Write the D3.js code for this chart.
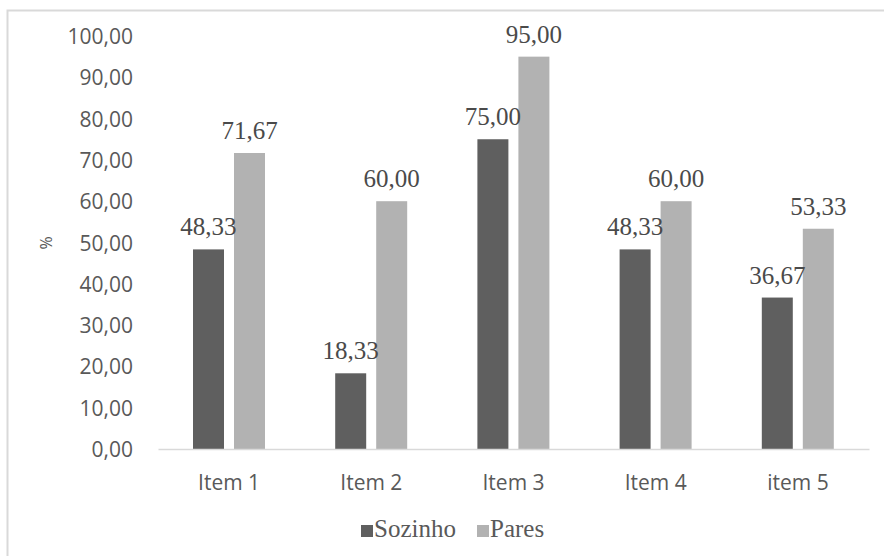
<!DOCTYPE html>
<html>
<head>
<meta charset="utf-8">
<script src="https://cdn.jsdelivr.net/npm/d3@7"></script>
<style>
  html, body { margin: 0; padding: 0; background: #fff; }
  svg { display: block; }
  .serif { font-family: "Liberation Serif", Tinos, "Times New Roman", Times, "DejaVu Serif", "Noto Serif", serif; }
  .sans { font-family: "Open Sans", sans-serif; }
</style>
</head>
<body>
<svg id="chart" width="884" height="556"></svg>
<script>
const categories = ['Item 1', 'Item 2', 'Item 3', 'Item 4', 'item 5'];
const seriesNames = ['Sozinho', 'Pares'];
const sozinho = [48.33, 18.33, 75.00, 48.33, 36.67];
const pares = [71.67, 60.00, 95.00, 60.00, 53.33];
const yTicks = [0, 10, 20, 30, 40, 50, 60, 70, 80, 90, 100];

const colors = { Sozinho: '#5f5f5f', Pares: '#b2b2b2' };
const fmt = v => v.toFixed(2).replace('.', ',');

const svg = d3.select('#chart');

// chart frame (only top and left edge are visible in the crop)
svg.append('rect')
  .attr('x', 7.5)
  .attr('y', 10.5)
  .attr('width', 900)
  .attr('height', 600)
  .attr('fill', 'none')
  .attr('stroke', '#d9d9d9')
  .attr('stroke-width', 2);

const x0 = d3.scaleBand()
  .domain(categories)
  .range([158, 869]);

const x1 = d3.scaleBand()
  .domain(seriesNames)
  .range([35, 107])
  .paddingInner(0.244);

const y = d3.scaleLinear()
  .domain([0, 100])
  .range([449, 36]);

// y axis labels
const yAxis = d3.axisLeft(y)
  .tickValues(yTicks)
  .tickFormat(fmt)
  .tickSize(0)
  .tickPadding(0);

const gy = svg.append('g')
  .attr('transform', 'translate(133,0)')
  .call(yAxis);
gy.select('.domain').remove();
gy.selectAll('text')
  .attr('class', 'sans')
  .attr('font-family', null)
  .attr('font-size', 21)
  .attr('fill', '#595959')
  .attr('dy', '0.36em');

// y title
svg.append('text')
  .attr('class', 'sans')
  .attr('transform', 'translate(52,243) rotate(-90)')
  .attr('text-anchor', 'middle')
  .attr('font-size', 16)
  .attr('fill', '#595959')
  .text('%');

// bars
const rows = categories.map((c, i) => ({
  cat: c,
  vals: [
    { key: 'Sozinho', value: sozinho[i] },
    { key: 'Pares', value: pares[i] }
  ]
}));

const groups = svg.append('g')
  .selectAll('g')
  .data(rows)
  .enter()
  .append('g')
  .attr('transform', d => `translate(${x0(d.cat)},0)`);

groups.selectAll('rect')
  .data(d => d.vals)
  .enter()
  .append('rect')
  .attr('x', d => x1(d.key))
  .attr('y', d => y(d.value))
  .attr('width', x1.bandwidth())
  .attr('height', d => y(0) - y(d.value))
  .attr('fill', d => colors[d.key]);

groups.selectAll('text')
  .data(d => d.vals)
  .enter()
  .append('text')
  .attr('class', 'serif')
  .attr('x', d => x1(d.key) + x1.bandwidth() / 2)
  .attr('y', d => y(d.value) - 14)
  .attr('text-anchor', 'middle')
  .attr('font-size', 25)
  .attr('fill', '#4a4a4a')
  .text(d => fmt(d.value));

// x axis
const xAxis = d3.axisBottom(x0).tickSize(0).tickPadding(0);
const gx = svg.append('g')
  .attr('transform', `translate(0,${y(0)})`)
  .call(xAxis);
gx.select('.domain')
  .attr('stroke', '#d9d9d9')
  .attr('stroke-width', 1.5);
gx.selectAll('text')
  .attr('class', 'sans')
  .attr('font-family', null)
  .attr('font-size', 21)
  .attr('fill', '#595959')
  .attr('dy', 0)
  .attr('y', 41);

// legend
const legendX = [361, 477];
const legend = svg.append('g')
  .selectAll('g')
  .data(seriesNames)
  .enter()
  .append('g')
  .attr('transform', (d, i) => `translate(${legendX[i]},537)`);

legend.append('rect')
  .attr('x', 0)
  .attr('y', -12)
  .attr('width', 12)
  .attr('height', 12)
  .attr('fill', d => colors[d]);

legend.append('text')
  .attr('class', 'serif')
  .attr('x', 13)
  .attr('y', 0)
  .attr('font-size', 25)
  .attr('fill', '#595959')
  .text(d => d);
</script>
</body>
</html>
